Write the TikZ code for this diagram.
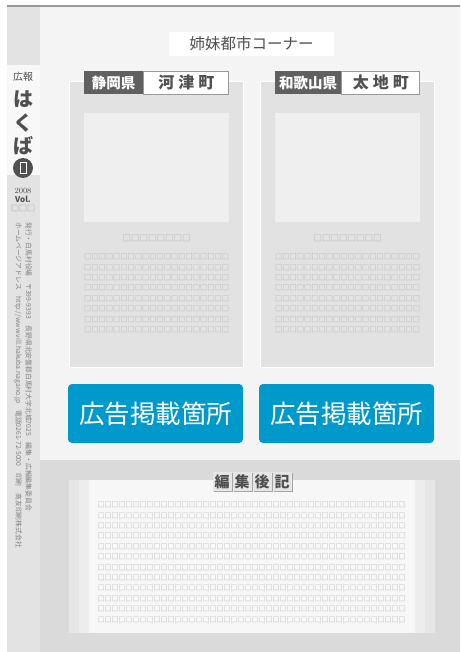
\documentclass[tikz,border=0pt]{standalone}
\usepackage{fontspec}
\newfontfamily\jp{Noto Sans CJK JP}
\usetikzlibrary{positioning,shadows}

\definecolor{pagebg}{HTML}{F4F4F4}
\definecolor{lowbg}{HTML}{DADADA}
\definecolor{stripgrey}{HTML}{E3E3E3}
\definecolor{stripwhite}{HTML}{F8F8F8}
\definecolor{panelgrey}{HTML}{E2E2E2}
\definecolor{photogrey}{HTML}{EFEFEF}
\definecolor{tofugrey}{HTML}{B4B4B4}
\definecolor{labeldark}{HTML}{606060}
\definecolor{textgrey}{HTML}{505050}
\definecolor{adblue}{HTML}{0099CC}
\definecolor{bandA}{HTML}{E6E6E6}
\definecolor{bandB}{HTML}{EDEDED}
\definecolor{notebg}{HTML}{F7F7F7}

\tikzset{
  panel/.style={draw=white, fill=panelgrey, line width=1pt, minimum width=174, minimum height=285},
  photo/.style={fill=photogrey, minimum width=145, minimum height=109, anchor=north west},
  pref/.style={fill=labeldark, text=white, inner sep=0pt, minimum height=23, anchor=north west,
    font=\jp\bfseries\fontsize{14.5}{14.5}\selectfont},
  town/.style={fill=white, draw=gray!80, line width=.8pt, text=textgrey, inner sep=0pt, minimum height=23,
    font=\jp\bfseries\fontsize{16}{16}\selectfont},
  tofu/.style={text=tofugrey, inner sep=0pt, font=\jp\bfseries\fontsize{7.25}{7.25}\selectfont},
  adbox/.style={fill=adblue, rounded corners=4pt, text=white, minimum width=175, minimum height=59,
    font=\jp\fontsize{25.5}{25.5}\selectfont},
  kanjibox/.style={fill=bandA, text=textgrey, inner sep=0pt, minimum width=19, minimum height=19,
    drop shadow={shadow xshift=1pt, shadow yshift=-1pt, fill=gray!70, opacity=1},
    font=\jp\bfseries\fontsize{15}{15}\selectfont},
  stripbig/.style={text=textgrey, inner sep=0pt, font=\jp\bfseries\fontsize{20}{20}\selectfont},
}

% one sister city column: name, shift, prefecture, its width, town, its width
\def\CityPanel#1#2#3#4#5#6{
  \begin{scope}[xshift=#2pt]
    \node[panel] (#1) at (156,224.5) {};
    \node[pref, minimum width=#4] (#1-pref) at (84,71) {#3};
    \node[town, minimum width=#6, right=0pt of #1-pref] (#1-town) {#5};
    \node[photo] (#1-photo) at (84,113) {};
    \node[tofu, font=\jp\bfseries\fontsize{8.5}{8.5}\selectfont] (#1-cap) at (156.5,238) {□□□□□□□□};
    \foreach \r in {0,...,7} {
      \node[tofu] (#1-row\r) at (156.5,{257+10.4*\r}) {□□□□□□□□□□□□□□□□□□□□};
    }
    \node[adbox] (#1-ad) at (155.5,413.5) {広告掲載箇所};
  \end{scope}
}

\begin{document}
\begin{tikzpicture}[x=1pt,y=-1pt]
  \useasboundingbox (0,0) rectangle (460,652);
  \fill[white] (0,0) rectangle (460,652);
  \fill[pagebg] (40,7) rectangle (460,460);
  \fill[lowbg] (40,460) rectangle (460,652);
  \fill[stripgrey] (7,7) rectangle (40,652);
  \fill[stripwhite] (7,65) rectangle (40,175);
  \draw[gray!80, line width=2pt] (7,6) -- (460,6);

  % left strip
  \node[text=textgrey, inner sep=0pt, font=\jp\fontsize{10}{10}\selectfont] (kouhou) at (23,77) {広報};
  \node[stripbig] (ha) at (23,99) {は};
  \node[stripbig] (ku) at (23,123) {く};
  \node[stripbig] (ba) at (23,146) {ば};
  \node[circle, fill=textgrey, minimum size=20, inner sep=0pt] (issue) at (23,168) {};
  \node[draw=white, line width=.8pt, minimum width=6, minimum height=11, inner sep=0pt] (issueno) at (issue) {};
  \node[text=textgrey, inner sep=0pt, font=\fontsize{8}{8}\selectfont] (year) at (23,191) {2008};
  \node[text=textgrey, inner sep=0pt, font=\jp\bfseries\fontsize{8}{8}\selectfont] (vol) at (23,199) {Vol.};
  \node[tofu, text=gray!70, font=\jp\bfseries\fontsize{8}{8}\selectfont] (volno) at (23,208) {□□□};
  \node[rotate=-90, anchor=north west, align=left, inner sep=0pt, text=gray,
    font=\jp\fontsize{6.8}{10}\selectfont] (imprint) at (32,222)
    {発行・白馬村役場　〒399-9393　長野県北安曇郡白馬村大字北城7025　編集・広報編集委員会\\
     ホームページアドレス　http://www.vill.hakuba.nagano.jp　電話0261-72-5000　印刷　高友印刷株式会社};

  % sister city corner
  \node[fill=white, minimum width=165, minimum height=24, text=textgrey,
    font=\jp\fontsize{15.5}{15.5}\selectfont] (title) at (251.5,44) {姉妹都市コーナー};
  \CityPanel{kawazu}{0}{静岡県}{59}{河\hspace{4pt}津\hspace{4pt}町}{85}
  \CityPanel{taichi}{191}{和歌山県}{66}{太\hspace{4pt}地\hspace{4pt}町}{78}

  % editor's note
  \fill[bandA] (69,480) rectangle (435,633);
  \fill[bandB] (79,480) rectangle (425,633);
  \fill[notebg] (89,480) rectangle (415,633);
  \foreach \c [count=\i] in {編,集,後,記} {
    \node[kanjibox] (head\i) at ({202+20*\i},481.5) {\c};
  }
  \foreach \r in {0,...,11} {
    \node[tofu, font=\jp\bfseries\fontsize{7}{7}\selectfont] (note\r) at (251.5,{505+10.4*\r})
      {□□□□□□□□□□□□□□□□□□□□□□□□□□□□□□□□□□□□□□□□□□□□};
  }
\end{tikzpicture}
\end{document}
